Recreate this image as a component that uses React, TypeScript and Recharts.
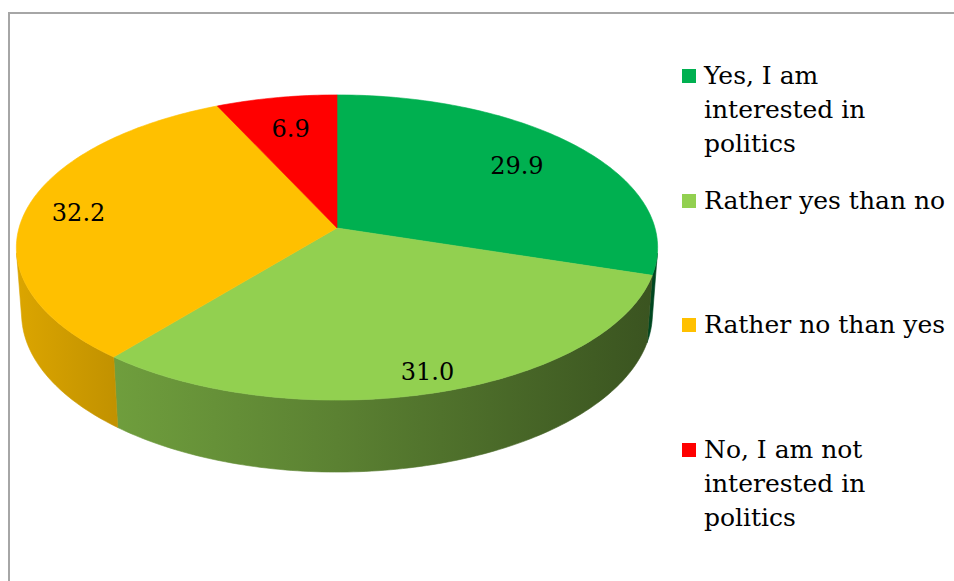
import React from "react";
import { PieChart, Pie, Cell, Legend } from "recharts";

// survey answers, clockwise from 12 o'clock
const categories = [
  "Yes, I am interested in politics",
  "Rather yes than no",
  "Rather no than yes",
  "No, I am not interested in politics",
];
const shares = [29.9, 31.0, 32.2, 6.9];
const colors = ["#00B050", "#92D050", "#FFC000", "#FF0000"];

const data = categories.map((name, i) => ({ name, value: shares[i] }));

// perspective camera for the fake 3D disk (radius = 1 unit)
const DIST = 6.9;
const COS = 0.882;
const SIN = 0.472;
const DEPTH = 0.238;
const EDGE = (Math.asin(1 / (DIST * COS)) * 180) / Math.PI;
const VIS_LO = -180 + EDGE;
const VIS_HI = -EDGE;
const LABEL_RADIUS = [0.74, 0.89, 0.83, 0.74];
const FONT = "'DejaVu Serif', Georgia, serif";

function project(cx: number, cy: number, r: number, u: number, w: number, y: number) {
  const z = DIST + w * COS - y * SIN;
  const k = (r * DIST) / z;
  return [cx + u * k, cy - (y * COS + w * SIN) * k];
}

function arc(cx: number, cy: number, r: number, from: number, to: number, y: number) {
  const steps = Math.max(2, Math.ceil(Math.abs(to - from)));
  const pts: number[][] = [];
  for (let i = 0; i <= steps; i++) {
    const t = ((from + ((to - from) * i) / steps) * Math.PI) / 180;
    pts.push(project(cx, cy, r, Math.cos(t), Math.sin(t), y));
  }
  return pts;
}

function toPath(pts: number[][]) {
  return "M" + pts.map((p) => `${p[0].toFixed(2)},${p[1].toFixed(2)}`).join("L") + "Z";
}

function TopFace(props: any) {
  const { cx, cy, outerRadius, startAngle, endAngle, fill } = props;
  const center = project(cx, cy, outerRadius, 0, 0, 0);
  const pts = [center, ...arc(cx, cy, outerRadius, startAngle, endAngle, 0)];
  return <path d={toPath(pts)} fill={fill} stroke={fill} strokeWidth={0.6} />;
}

function SideWall(props: any) {
  const { cx, cy, outerRadius, startAngle, endAngle, fill } = props;
  const a = Math.max(Math.min(startAngle, endAngle), VIS_LO);
  const b = Math.min(Math.max(startAngle, endAngle), VIS_HI);
  if (b <= a) return <g />;
  const pts = [
    ...arc(cx, cy, outerRadius, a, b, 0),
    ...arc(cx, cy, outerRadius, b, a, -DEPTH),
  ];
  return <path d={toPath(pts)} fill={fill} stroke={fill} strokeWidth={0.6} />;
}

function shade(hex: string, f: number) {
  const n = parseInt(hex.slice(1), 16);
  const ch = [(n >> 16) & 255, (n >> 8) & 255, n & 255].map((v) => Math.round(v * f));
  return `rgb(${ch.join(",")})`;
}

const renderLabel = (p: any) => {
  const { cx, cy, outerRadius, midAngle, index, value } = p;
  const r = LABEL_RADIUS[index] ?? 0.75;
  const t = (midAngle * Math.PI) / 180;
  const [x, y] = project(cx, cy, outerRadius, r * Math.cos(t), r * Math.sin(t), 0);
  return (
    <text x={x} y={y} textAnchor="middle" dominantBaseline="central" fontFamily={FONT} fontSize={24} fill="#000">
      {Number(value).toFixed(1)}
    </text>
  );
};

const renderLegend = (props: any) => {
  const items = (props.payload || [])
    .filter((e: any) => e.type !== "none" && categories.includes(e.value))
    .sort((a: any, b: any) => categories.indexOf(a.value) - categories.indexOf(b.value));
  return (
    <div style={{ fontFamily: FONT, fontSize: 25, lineHeight: "34px", color: "#000" }}>
      {items.map((e: any, i: number) => (
        <div key={i} style={{ height: 124.5, display: "flex", alignItems: "flex-start" }}>
          <div style={{ width: 14, height: 14, background: e.color, marginTop: 10, marginRight: 8, flex: "none" }} />
          <div style={{ width: 250 }}>{e.value}</div>
        </div>
      ))}
    </div>
  );
};

export default function App() {
  return (
    <div style={{ position: "absolute", left: 0, top: 0, width: 954, height: 581, background: "#fff", overflow: "hidden" }}>
      <div
        style={{
          position: "absolute",
          left: 8,
          top: 12,
          width: 1000,
          height: 1000,
          borderTop: "2px solid #a6a6a6",
          borderLeft: "2px solid #a6a6a6",
        }}
      />
      <PieChart width={954} height={581} margin={{ top: 0, right: 0, bottom: 0, left: 0 }}>
        <defs>
          {colors.map((c, i) => (
            <linearGradient key={i} id={`wall-${i}`} gradientUnits="userSpaceOnUse" x1={18} y1={0} x2={657} y2={0}>
              <stop offset="0" stopColor={shade(c, 0.86)} />
              <stop offset="0.15" stopColor={shade(c, 0.76)} />
              <stop offset="0.5" stopColor={shade(c, 0.62)} />
              <stop offset="0.9" stopColor={shade(c, 0.44)} />
              <stop offset="1" stopColor={shade(c, 0.4)} />
            </linearGradient>
          ))}
        </defs>
        <Pie
          data={data}
          dataKey="value"
          nameKey="name"
          cx={337}
          cy={228}
          outerRadius={318}
          startAngle={90}
          endAngle={-270}
          legendType="none"
          isAnimationActive={false}
          shape={SideWall}
          activeShape={SideWall}
          inactiveShape={SideWall}
        >
          {data.map((_, i) => (
            <Cell key={i} fill={`url(#wall-${i})`} />
          ))}
        </Pie>
        <Pie
          data={data}
          dataKey="value"
          nameKey="name"
          cx={337}
          cy={228}
          outerRadius={318}
          startAngle={90}
          endAngle={-270}
          isAnimationActive={false}
          shape={TopFace}
          activeShape={TopFace}
          inactiveShape={TopFace}
          label={renderLabel}
          labelLine={false}
        >
          {data.map((_, i) => (
            <Cell key={i} fill={colors[i]} />
          ))}
        </Pie>
        <Legend
          layout="vertical"
          verticalAlign="top"
          align="right"
          content={renderLegend}
          wrapperStyle={{ left: 682, top: 59, width: 272 }}
        />
      </PieChart>
    </div>
  );
}
